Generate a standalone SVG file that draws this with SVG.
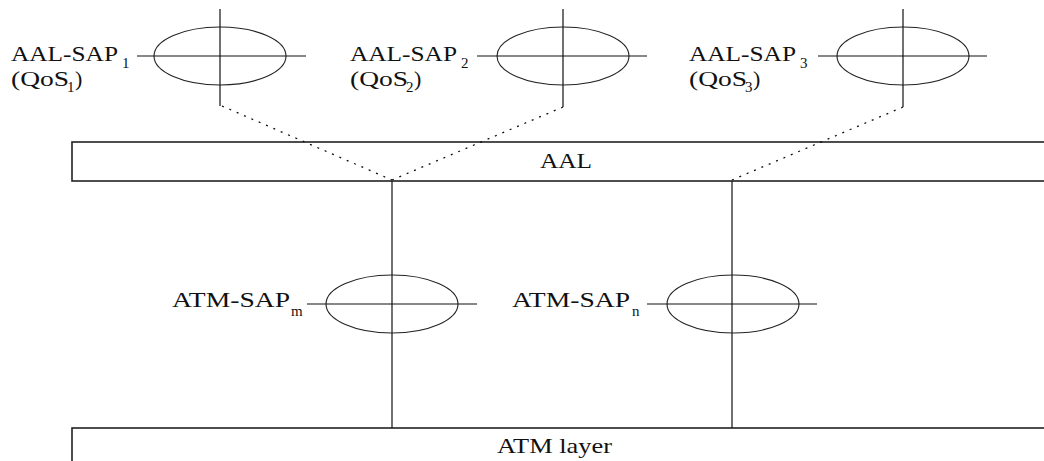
<svg xmlns="http://www.w3.org/2000/svg" width="1044" height="461" viewBox="0 0 1044 461">
<style>
.t{font-family:"Liberation Serif","Times New Roman",serif;font-size:22px;fill:#111}
.s{font-family:"Liberation Serif","Times New Roman",serif;font-size:15px;fill:#111}
.ln{stroke:#111;stroke-width:1.2;fill:none}
.el{stroke:#222;stroke-width:1.1;fill:none}
.box{stroke:#222;stroke-width:1.6;fill:#fff}
.dot{stroke:#111;stroke-width:1.3;fill:none;stroke-dasharray:2 6}
</style>
<rect width="1044" height="461" fill="#fff"/>
<g id="aal-layer">
<rect class="box" x="72" y="142" width="990" height="39"/>
<text class="t" x="540" y="168" textLength="52" lengthAdjust="spacingAndGlyphs">AAL</text>
</g>
<g id="atm-layer">
<rect class="box" x="72" y="428" width="990" height="60"/>
<text class="t" x="497" y="453" textLength="115" lengthAdjust="spacingAndGlyphs">ATM layer</text>
</g>
<g id="connectors">
<line class="ln" x1="392" y1="181" x2="392" y2="428"/>
<line class="ln" x1="732" y1="181" x2="732" y2="428"/>
<line class="dot" x1="222" y1="106" x2="392" y2="180"/>
<line class="dot" x1="563" y1="107" x2="392" y2="180"/>
<line class="dot" x1="903" y1="107" x2="732" y2="180"/>
</g>
<g id="aal-sap1">
<ellipse class="el" cx="220" cy="56" rx="66" ry="29"/>
<line class="ln" x1="137" y1="56" x2="306" y2="56"/>
<line class="ln" x1="220" y1="9" x2="220" y2="106"/>
<text class="t" x="11" y="61" textLength="107" lengthAdjust="spacingAndGlyphs">AAL-SAP</text>
<text class="s" x="122" y="68">1</text>
<text class="t" x="11" y="86" textLength="58" lengthAdjust="spacingAndGlyphs">(QoS</text>
<text class="s" x="67" y="92">1</text>
<text class="t" x="75" y="86">)</text>
</g>
<g id="aal-sap2">
<ellipse class="el" cx="563" cy="56" rx="66" ry="29"/>
<line class="ln" x1="477" y1="56" x2="647" y2="56"/>
<line class="ln" x1="563" y1="9" x2="563" y2="107"/>
<text class="t" x="350" y="61" textLength="107" lengthAdjust="spacingAndGlyphs">AAL-SAP</text>
<text class="s" x="461" y="68">2</text>
<text class="t" x="350" y="86" textLength="58" lengthAdjust="spacingAndGlyphs">(QoS</text>
<text class="s" x="406" y="92">2</text>
<text class="t" x="414" y="86">)</text>
</g>
<g id="aal-sap3">
<ellipse class="el" cx="903" cy="56" rx="66" ry="29"/>
<line class="ln" x1="818" y1="56" x2="987" y2="56"/>
<line class="ln" x1="903" y1="9" x2="903" y2="107"/>
<text class="t" x="689" y="61" textLength="107" lengthAdjust="spacingAndGlyphs">AAL-SAP</text>
<text class="s" x="800" y="68">3</text>
<text class="t" x="689" y="86" textLength="58" lengthAdjust="spacingAndGlyphs">(QoS</text>
<text class="s" x="745" y="92">3</text>
<text class="t" x="753" y="86">)</text>
</g>
<g id="atm-sapm">
<ellipse class="el" cx="392" cy="304" rx="66" ry="29"/>
<line class="ln" x1="307" y1="304" x2="477" y2="304"/>
<text class="t" x="172" y="307" textLength="118" lengthAdjust="spacingAndGlyphs">ATM-SAP</text>
<text class="s" x="291" y="316">m</text>
</g>
<g id="atm-sapn">
<ellipse class="el" cx="733" cy="304" rx="66" ry="29"/>
<line class="ln" x1="647" y1="304" x2="817" y2="304"/>
<text class="t" x="512" y="307" textLength="118" lengthAdjust="spacingAndGlyphs">ATM-SAP</text>
<text class="s" x="632" y="316">n</text>
</g>
</svg>
